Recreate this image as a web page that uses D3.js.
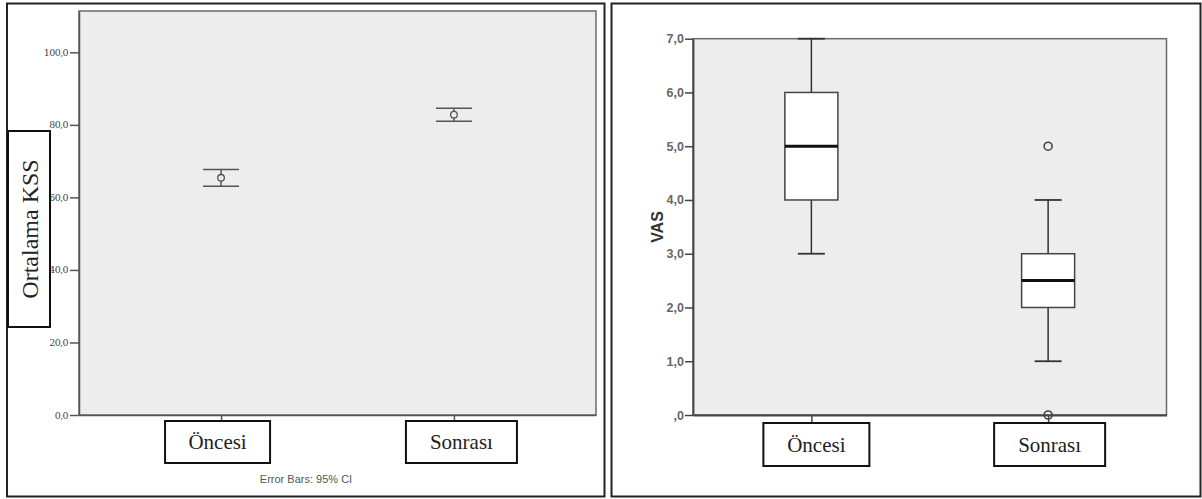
<!DOCTYPE html>
<html>
<head>
<meta charset="utf-8">
<script src="https://cdn.jsdelivr.net/npm/d3@7"></script>
<style>
  body { margin: 0; background: #fff; }
  svg { display: block; }
</style>
</head>
<body>
<div id="chart"></div>
<script>
// left panel: mean KSS with 95% CI
const kssCategories = ["Öncesi", "Sonrası"];
const kssMean = [65.4, 82.8];
const kssLower = [63.1, 81.0];
const kssUpper = [67.7, 84.6];
const kssTicks = [0, 20, 40, 60, 80, 100];

// right panel: VAS box plot
const vasCategories = ["Öncesi", "Sonrası"];
const vasMin = [3, 1];
const vasQ1 = [4, 2];
const vasMedian = [5, 2.5];
const vasQ3 = [6, 3];
const vasMax = [7, 4];
const vasOutliers = [[], [5, 0]];
const vasTicks = [0, 1, 2, 3, 4, 5, 6, 7];

const W = 1202, H = 499;
const svg = d3.select("#chart").append("svg")
  .attr("width", W).attr("height", H);

const serif = "'Liberation Serif', 'Times New Roman', serif";
const sans = "'Liberation Sans', Arial, sans-serif";

// panel frames
svg.append("rect").attr("x", 7).attr("y", 3.5).attr("width", 597.5).attr("height", 493)
  .attr("fill", "none").attr("stroke", "#222").attr("stroke-width", 2);
svg.append("rect").attr("x", 611.5).attr("y", 3.5).attr("width", 589).attr("height", 493)
  .attr("fill", "none").attr("stroke", "#222").attr("stroke-width", 2);

// hand drawn label boxes (label box drawn over the chart)
function labelBox(x, y, w, h, text, size, rotate) {
  const g = svg.append("g");
  g.append("rect").attr("x", x).attr("y", y).attr("width", w).attr("height", h)
    .attr("fill", "#fff").attr("stroke", "#111").attr("stroke-width", 2);
  const t = g.append("text")
    .attr("font-family", serif).attr("font-size", size).attr("fill", "#222")
    .attr("text-anchor", "middle").attr("dominant-baseline", "central")
    .text(text);
  if (rotate) {
    t.attr("transform", `translate(${x + w / 2 + 1},${y + h / 2}) rotate(-90)`);
  } else {
    t.attr("x", x + w / 2).attr("y", y + h / 2);
  }
}

// ---------- left ----------
const L = { left: 79, right: 596, top: 11, bottom: 415 };

const xL = d3.scalePoint().domain(kssCategories).range([L.left, L.right]).padding(0.61);
const yL = d3.scaleLinear().domain([0, 111.4]).range([L.bottom, L.top]);

const gL = svg.append("g");
gL.append("rect").attr("x", L.left).attr("y", L.top)
  .attr("width", L.right - L.left).attr("height", L.bottom - L.top)
  .attr("fill", "#ededee").attr("stroke", "#6a6a6a").attr("stroke-width", 1.5);

const axL = gL.append("g").attr("transform", `translate(${L.left},0)`)
  .call(d3.axisLeft(yL).tickValues(kssTicks).tickSize(9).tickSizeOuter(0).tickPadding(2)
    .tickFormat(d => d3.format(".1f")(d).replace(".", ",")));
axL.select(".domain").attr("stroke", "#555").attr("stroke-width", 1.5);
axL.selectAll(".tick line").attr("stroke", "#555").attr("stroke-width", 1.5);
axL.selectAll("text").attr("font-family", "'DejaVu Serif', serif").attr("font-size", 9.5)
  .attr("fill", "#444").attr("letter-spacing", -0.6);

const bxL = gL.append("g").attr("transform", `translate(0,${L.bottom})`)
  .call(d3.axisBottom(xL).tickSize(6).tickSizeOuter(0).tickFormat(""));
bxL.select(".domain").attr("stroke", "#555").attr("stroke-width", 1.5);
bxL.selectAll(".tick line").attr("stroke", "#555").attr("stroke-width", 1.5);

const capW = 36;
const eb = gL.selectAll(".eb").data(kssCategories).enter().append("g").attr("class", "eb");
eb.append("line")
  .attr("x1", d => xL(d)).attr("x2", d => xL(d))
  .attr("y1", (d, i) => yL(kssUpper[i])).attr("y2", (d, i) => yL(kssLower[i]))
  .attr("stroke", "#555").attr("stroke-width", 1.5);
eb.append("line")
  .attr("x1", d => xL(d) - capW / 2).attr("x2", d => xL(d) + capW / 2)
  .attr("y1", (d, i) => yL(kssUpper[i])).attr("y2", (d, i) => yL(kssUpper[i]))
  .attr("stroke", "#555").attr("stroke-width", 1.5);
eb.append("line")
  .attr("x1", d => xL(d) - capW / 2).attr("x2", d => xL(d) + capW / 2)
  .attr("y1", (d, i) => yL(kssLower[i])).attr("y2", (d, i) => yL(kssLower[i]))
  .attr("stroke", "#555").attr("stroke-width", 1.5);
eb.append("circle")
  .attr("cx", d => xL(d)).attr("cy", (d, i) => yL(kssMean[i])).attr("r", 3.3)
  .attr("fill", "#ededee").attr("stroke", "#555").attr("stroke-width", 1.3);

svg.append("text").attr("x", 306).attr("y", 483)
  .attr("text-anchor", "middle").attr("font-family", sans).attr("font-size", 11)
  .attr("fill", "#555").text("Error Bars: 95% CI");

labelBox(8, 131, 42, 196, "Ortalama KSS", 24, true);
labelBox(xL("Öncesi") - 56, 421, 105, 42, "Öncesi", 21);
labelBox(xL("Sonrası") - 48, 421, 111, 42, "Sonrası", 21);

// ---------- right ----------
const R = { left: 693, right: 1166.5, top: 38.7, bottom: 415 };

const xR = d3.scalePoint().domain(vasCategories).range([R.left, R.right]).padding(0.5);
const yR = d3.scaleLinear().domain([0, 7]).range([R.bottom, R.top]);

const gR = svg.append("g");
gR.append("rect").attr("x", R.left).attr("y", R.top)
  .attr("width", R.right - R.left).attr("height", R.bottom - R.top)
  .attr("fill", "#ededee").attr("stroke", "#6a6a6a").attr("stroke-width", 1.5);

const axR = gR.append("g").attr("transform", `translate(${R.left},0)`)
  .call(d3.axisLeft(yR).tickValues(vasTicks).tickSize(8).tickSizeOuter(0).tickPadding(1)
    .tickFormat(d => d === 0 ? ",0" : d3.format(".1f")(d).replace(".", ",")));
axR.select(".domain").attr("stroke", "#444").attr("stroke-width", 1.8);
axR.selectAll(".tick line").attr("stroke", "#444").attr("stroke-width", 1.5);
axR.selectAll("text").attr("font-family", sans).attr("font-size", 12.5)
  .attr("font-weight", "bold").attr("fill", "#666");

const bxR = gR.append("g").attr("transform", `translate(0,${R.bottom})`)
  .call(d3.axisBottom(xR).tickSize(7).tickSizeOuter(0).tickFormat(""));
bxR.select(".domain").attr("stroke", "#444").attr("stroke-width", 1.8);
bxR.selectAll(".tick line").attr("stroke", "#444").attr("stroke-width", 1.5);

const boxW = 53, whiskW = 27;
const bp = gR.selectAll(".bp").data(vasCategories).enter().append("g").attr("class", "bp");
bp.append("line")
  .attr("x1", d => xR(d)).attr("x2", d => xR(d))
  .attr("y1", (d, i) => yR(vasMax[i])).attr("y2", (d, i) => yR(vasMin[i]))
  .attr("stroke", "#333").attr("stroke-width", 1.5);
bp.append("line")
  .attr("x1", d => xR(d) - whiskW / 2).attr("x2", d => xR(d) + whiskW / 2)
  .attr("y1", (d, i) => yR(vasMax[i])).attr("y2", (d, i) => yR(vasMax[i]))
  .attr("stroke", "#333").attr("stroke-width", 1.8);
bp.append("line")
  .attr("x1", d => xR(d) - whiskW / 2).attr("x2", d => xR(d) + whiskW / 2)
  .attr("y1", (d, i) => yR(vasMin[i])).attr("y2", (d, i) => yR(vasMin[i]))
  .attr("stroke", "#333").attr("stroke-width", 1.8);
bp.append("rect")
  .attr("x", d => xR(d) - boxW / 2).attr("width", boxW)
  .attr("y", (d, i) => yR(vasQ3[i])).attr("height", (d, i) => yR(vasQ1[i]) - yR(vasQ3[i]))
  .attr("fill", "#fff").attr("stroke", "#444").attr("stroke-width", 1.5);
bp.append("line")
  .attr("x1", d => xR(d) - boxW / 2).attr("x2", d => xR(d) + boxW / 2)
  .attr("y1", (d, i) => yR(vasMedian[i])).attr("y2", (d, i) => yR(vasMedian[i]))
  .attr("stroke", "#111").attr("stroke-width", 3);
bp.each(function (d, i) {
  d3.select(this).selectAll("circle").data(vasOutliers[i]).enter().append("circle")
    .attr("cx", xR(d)).attr("cy", v => yR(v)).attr("r", 4)
    .attr("fill", "none").attr("stroke", "#444").attr("stroke-width", 1.6);
});

svg.append("text")
  .attr("transform", `translate(657,227) rotate(-90)`)
  .attr("text-anchor", "middle").attr("dominant-baseline", "central")
  .attr("font-family", sans).attr("font-size", 16).attr("font-weight", "bold")
  .attr("fill", "#333").text("VAS");

labelBox(xR("Öncesi") - 48, 423, 106, 43, "Öncesi", 21);
labelBox(xR("Sonrası") - 54, 423, 111, 43, "Sonrası", 21);
</script>
</body>
</html>
